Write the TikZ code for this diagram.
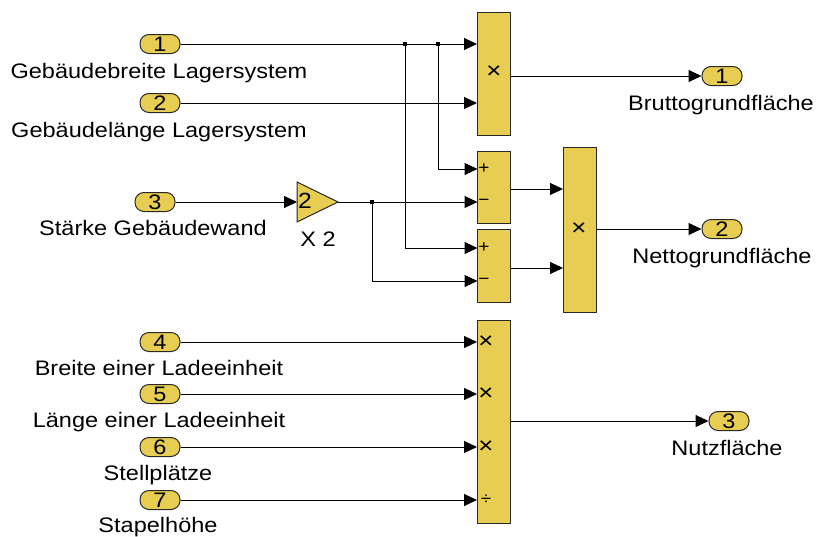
\documentclass[tikz,border=0pt]{standalone}
\usepackage{fontspec}
\setmainfont{Liberation Sans}[FakeStretch=1.12]
\usepackage{xcolor}
\usetikzlibrary{arrows.meta}
\definecolor{blkfill}{RGB}{231,206,82}
\definecolor{blkedge}{RGB}{40,40,40}

\begin{document}
\begin{tikzpicture}[x=1pt, y=-1pt,
  blk/.style={draw=blkedge, fill=blkfill, line width=1pt, minimum width=33pt, inner sep=0pt},
  port/.style={draw=blkedge, fill=blkfill, line width=1pt, rounded corners=9pt,
               minimum width=40pt, minimum height=19pt, inner sep=0pt,
               font=\fontsize{21}{21}\selectfont},
  lbl/.style={anchor=base, inner sep=0pt, font=\fontsize{21}{21}\selectfont},
  sgn/.style={inner sep=0pt, font=\fontsize{17}{17}\selectfont},
  mul/.style={inner sep=0pt, font=\fontsize{23}{23}\selectfont},
  arr/.style={-{Triangle[length=13pt,width=12pt]}, line width=1pt},
  wire/.style={line width=1pt},
  dot/.style={fill, minimum size=3.5pt, inner sep=0pt}
]
  \useasboundingbox (0,0) rectangle (817,536);

  % inports
  \node[port] (in1) at (160,44) {1};
  \node[port] (in2) at (160,103) {2};
  \node[port] (in3) at (155,202) {3};
  \node[port] (in4) at (160,342) {4};
  \node[port] (in5) at (160,394) {5};
  \node[port] (in6) at (160,447) {6};
  \node[port] (in7) at (160,500) {7};
  \node[lbl] (in1txt) at (159,78) {Gebäudebreite Lagersystem};
  \node[lbl] (in2txt) at (159,137) {Gebäudelänge Lagersystem};
  \node[lbl] (in3txt) at (153,235) {Stärke Gebäudewand};
  \node[lbl] (in4txt) at (159,375) {Breite einer Ladeeinheit};
  \node[lbl] (in5txt) at (159,427) {Länge einer Ladeeinheit};
  \node[lbl] (in6txt) at (158,480) {Stellplätze};
  \node[lbl] (in7txt) at (158,532) {Stapelhöhe};

  % outports
  \node[port] (out1) at (722,76) {1};
  \node[port] (out2) at (722,229) {2};
  \node[port] (out3) at (729,421) {3};
  \node[lbl] (out1txt) at (721,110) {Bruttogrundfläche};
  \node[lbl] (out2txt) at (722,263) {Nettogrundfläche};
  \node[lbl] (out3txt) at (727,455) {Nutzfläche};

  % blocks
  \node[blk, minimum height=123pt] (prod1) at (494,73.5) {};
  \node[blk, minimum height=72pt] (sum1) at (494,187) {};
  \node[blk, minimum height=73pt] (sum2) at (494,265.5) {};
  \node[blk, minimum height=165pt] (prod2) at (579.5,229.5) {};
  \node[blk, minimum height=203pt] (prod3) at (494,421.5) {};

  \node[mul] (m1) at (494,72) {×};
  \node[mul] (m2) at (579,229) {×};
  \node[sgn] (s1a) at (484,169) {+};
  \node[sgn] (s1b) at (484,202) {−};
  \node[sgn] (s2a) at (484,248) {+};
  \node[sgn] (s2b) at (484,281) {−};
  \node[mul] (m3a) at (486,342) {×};
  \node[mul] (m3b) at (486,394) {×};
  \node[mul] (m3c) at (486,447) {×};
  \node[sgn] (m3d) at (486,500) {÷};

  % gain
  \draw[draw=blkedge, fill=blkfill, line width=1pt] (297,182) -- (338,202) -- (297,222) -- cycle;
  \coordinate (gin) at (297,202);
  \coordinate (gout) at (338,202);
  \node[inner sep=0pt, font=\fontsize{22}{22}\selectfont] (gval) at (305,201) {2};
  \node[lbl] (gtxt) at (318,246) {X 2};

  % port positions
  \coordinate (s1p) at (477.5,169);
  \coordinate (s1m) at (477.5,202);
  \coordinate (s2p) at (477.5,248);
  \coordinate (s2m) at (477.5,281);
  \coordinate (q2a) at (563,189);
  \coordinate (q2b) at (563,268);

  % branch points
  \node[dot] (b1) at (405,44) {};
  \node[dot] (b2) at (438,44) {};
  \node[dot] (b3) at (372,202) {};

  % wires
  \draw[arr] (in1.east) -- (in1.east -| prod1.west);
  \draw[arr] (in2.east) -- (in2.east -| prod1.west);
  \draw[arr] (b2.center) |- (s1p);
  \draw[arr] (b1.center) |- (s2p);
  \draw[arr] (in3.east) -- (gin);
  \draw[wire] (gout) -- (b3.center);
  \draw[arr] (b3.center) -- (s1m);
  \draw[arr] (b3.center) |- (s2m);
  \draw[arr] (sum1.east |- q2a) -- (q2a);
  \draw[arr] (sum2.east |- q2b) -- (q2b);
  \draw[arr] (in4.east) -- (in4.east -| prod3.west);
  \draw[arr] (in5.east) -- (in5.east -| prod3.west);
  \draw[arr] (in6.east) -- (in6.east -| prod3.west);
  \draw[arr] (in7.east) -- (in7.east -| prod3.west);
  \draw[arr] (prod1.east |- out1) -- (out1.west);
  \draw[arr] (prod2.east |- out2) -- (out2.west);
  \draw[arr] (prod3.east |- out3) -- (out3.west);
\end{tikzpicture}
\end{document}
